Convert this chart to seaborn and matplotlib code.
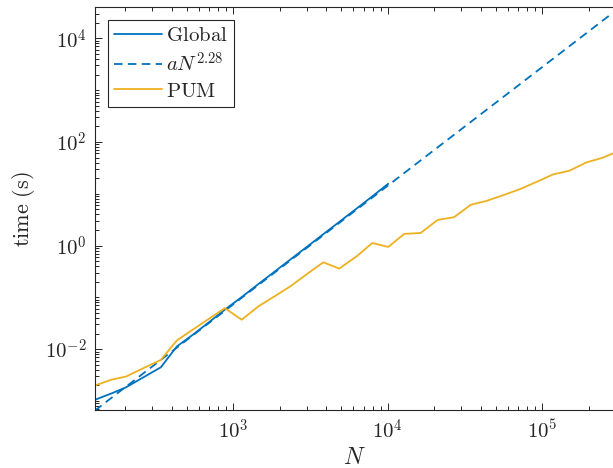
import numpy as np
import pandas as pd
import matplotlib
matplotlib.use("Agg")
import matplotlib.pyplot as plt
import matplotlib.ticker as mticker
import seaborn as sns

# ---- data ----
pum_N = [127, 163, 202, 262, 340, 431, 548, 695, 883, 1133, 1452, 1848, 2355,
         2999, 3828, 4853, 6293, 7943, 10070, 12790, 16330, 21040, 26850,
         34430, 43650, 55980, 71780, 92040, 117800, 149600, 193600, 246000, 287000]
pum_t = [1.98e-3, 2.58e-3, 2.95e-3, 4.3e-3, 6.2e-3, 0.0147, 0.0239, 0.0385,
         0.062, 0.037, 0.0668, 0.1045, 0.165, 0.282, 0.475, 0.359, 0.621, 1.12,
         0.94, 1.68, 1.75, 3.13, 3.53, 6.11, 7.30, 9.40, 12.3, 17.0, 23.7, 27.8,
         40.4, 49.6, 60.3]

glob_N = [127, 163, 202, 262, 340, 431, 548, 695, 883, 1133, 1452, 1848, 2355,
          2999, 3828, 4853, 6293, 7943, 10070]
glob_t = [1.05e-3, 1.40e-3, 1.83e-3, 2.86e-3, 4.47e-3, 0.01125, 0.0190, 0.0330,
          0.058, 0.101, 0.180, 0.312, 0.545, 0.945, 1.66, 2.86, 5.2, 8.9, 15.6]

fit_N = [127, 287000]
fit_t = [6.5e-4, 3.13e4]

labels = [r"$\mathrm{Global}$", r"$aN^{2.28}$", r"$\mathrm{PUM}$"]
x_label = r"$N$"
y_label = r"$\mathrm{time\ (s)}$"

blue = "#0072BD"
yellow = "#EDB120"
axcol = "#262626"

sns.set_style("ticks")
plt.rcParams["mathtext.fontset"] = "cm"
plt.rcParams["font.family"] = ["DejaVu Serif"]

fig = plt.figure(figsize=(6.13, 4.68), dpi=100)
ax = fig.add_axes([95 / 613, 1 - 410.3 / 468, 1 - 95 / 613, (410.3 - 7.3) / 468])

df_g = pd.DataFrame({"N": glob_N, "t": glob_t})
df_f = pd.DataFrame({"N": fit_N, "t": fit_t})
df_p = pd.DataFrame({"N": pum_N, "t": pum_t})

sns.lineplot(data=df_g, x="N", y="t", ax=ax, color=blue, lw=1.3,
             estimator=None, sort=False, label=labels[0])
sns.lineplot(data=df_f, x="N", y="t", ax=ax, color=blue, lw=1.3,
             estimator=None, sort=False, label=labels[1], linestyle=(0, (4.7, 3)))
sns.lineplot(data=df_p, x="N", y="t", ax=ax, color=yellow, lw=1.3,
             estimator=None, sort=False, label=labels[2])

ax.set_xscale("log")
ax.set_yscale("log")
ax.set_xlim(127.4, 2.87e5)
ax.set_ylim(6.6e-4, 3.98e4)

ax.xaxis.set_major_locator(mticker.LogLocator(base=10, numticks=20))
ax.yaxis.set_major_locator(mticker.FixedLocator([1e-2, 1e0, 1e2, 1e4]))
ax.xaxis.set_minor_locator(mticker.LogLocator(base=10, subs=np.arange(2, 10), numticks=40))
ax.yaxis.set_minor_locator(mticker.LogLocator(base=10, subs=np.arange(1, 10), numticks=40))
ax.xaxis.set_minor_formatter(mticker.NullFormatter())
ax.yaxis.set_minor_formatter(mticker.NullFormatter())
fmt = mticker.FuncFormatter(lambda v, p: r"$10^{%d}$" % int(round(np.log10(v))))
ax.xaxis.set_major_formatter(fmt)
ax.yaxis.set_major_formatter(fmt)

for s in ["left", "bottom", "top"]:
    ax.spines[s].set_color(axcol)
    ax.spines[s].set_linewidth(0.8)
ax.spines["right"].set_visible(False)

ax.tick_params(which="both", direction="in", top=True, right=False,
               color=axcol, labelcolor=axcol, width=0.7)
ax.tick_params(which="major", length=5, labelsize=15, pad=6)
ax.tick_params(which="minor", length=3)

ax.set_xlabel(x_label, fontsize=17, color=axcol, labelpad=2)
ax.set_ylabel(y_label, fontsize=16, color=axcol, labelpad=6)

leg = ax.legend(loc="upper left", fontsize=15, frameon=True, fancybox=False,
                framealpha=1, edgecolor=axcol, borderpad=0.3, handlelength=2.3,
                handletextpad=0.2, labelspacing=0.3, borderaxespad=0.6)
leg.get_frame().set_linewidth(0.8)

fig.savefig("out.png", dpi=100)
